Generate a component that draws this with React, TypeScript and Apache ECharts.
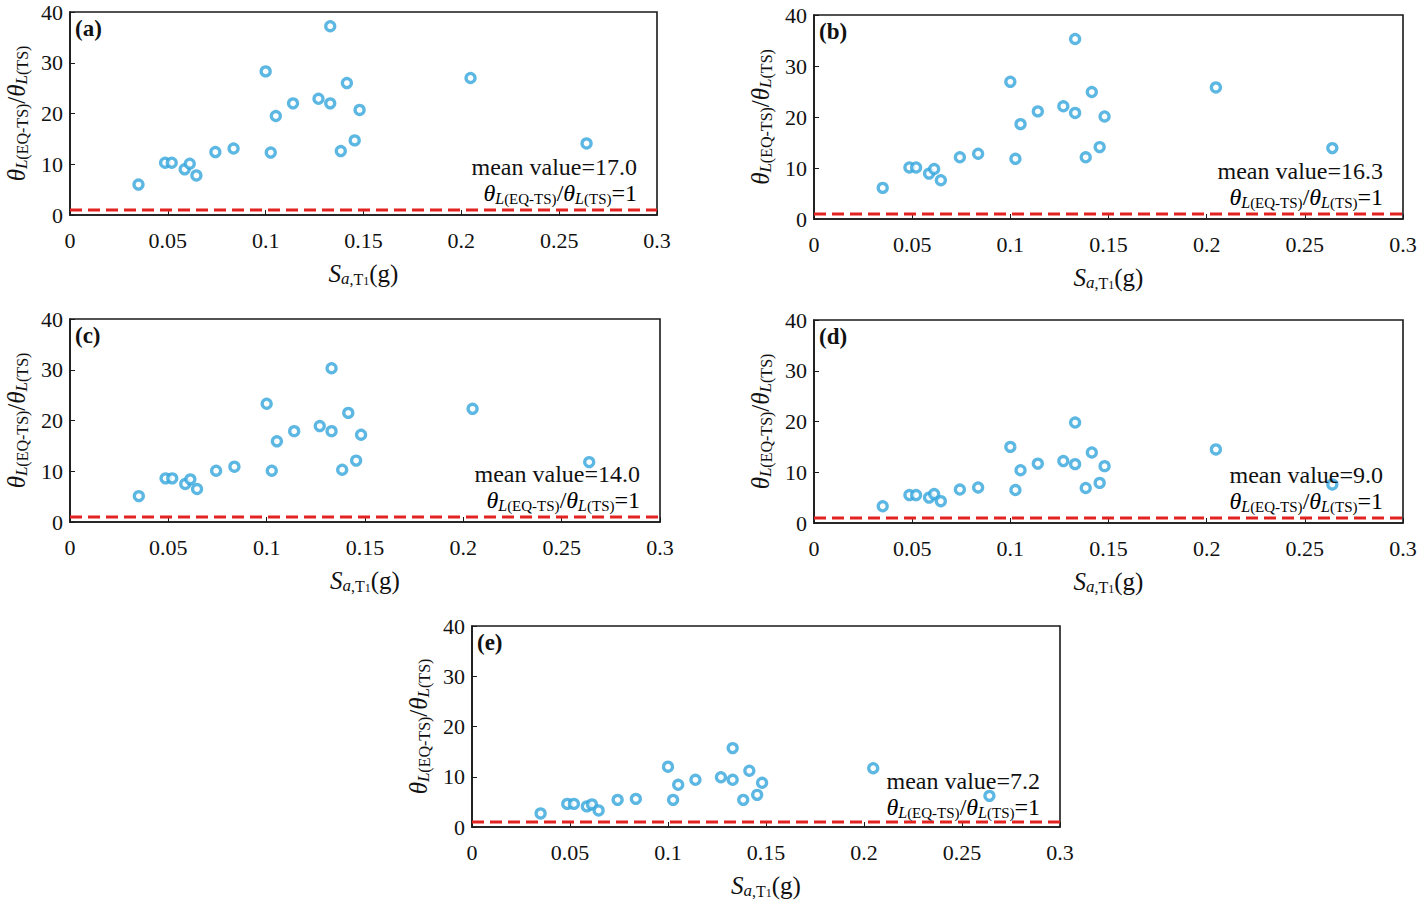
import React, { useEffect, useRef } from "react";
import * as echarts from "echarts";

// ---------- data ----------
const SA_T1 = [
  0.035, 0.0486, 0.052, 0.0586, 0.0612, 0.0646, 0.0743, 0.0836, 0.1, 0.1026, 0.1052,
  0.114, 0.127, 0.133, 0.133, 0.1384, 0.1415, 0.1455, 0.148, 0.2047, 0.264,
];
const RATIO_A = [6.0, 10.3, 10.3, 9.0, 10.1, 7.8, 12.4, 13.1, 28.3, 12.3, 19.5, 22.0, 22.9, 37.2, 22.0, 12.6, 26.0, 14.7, 20.7, 27.0, 14.1];
const RATIO_B = [6.1, 10.1, 10.1, 8.9, 9.8, 7.6, 12.1, 12.8, 26.9, 11.8, 18.6, 21.1, 22.1, 35.3, 20.8, 12.1, 24.9, 14.1, 20.1, 25.8, 13.9];
const RATIO_C = [5.1, 8.6, 8.6, 7.5, 8.4, 6.5, 10.1, 10.9, 23.3, 10.1, 15.9, 17.9, 18.9, 30.3, 17.9, 10.3, 21.5, 12.1, 17.2, 22.3, 11.8];
const RATIO_D = [3.3, 5.5, 5.5, 5.0, 5.7, 4.3, 6.6, 7.0, 15.0, 6.5, 10.4, 11.7, 12.2, 19.8, 11.6, 6.9, 13.9, 7.9, 11.2, 14.5, 7.6];
const RATIO_E = [2.7, 4.6, 4.6, 4.1, 4.5, 3.3, 5.4, 5.6, 12.0, 5.4, 8.4, 9.4, 9.9, 15.7, 9.4, 5.4, 11.2, 6.4, 8.8, 11.7, 6.2];
const PANEL_SERIES = [RATIO_A, RATIO_B, RATIO_C, RATIO_D, RATIO_E];
const PANEL_LABELS = ["(a)", "(b)", "(c)", "(d)", "(e)"];
const MEAN_VALUES = ["17.0", "16.3", "14.0", "9.0", "7.2"];
const REF_LINE = 1;
const X_RANGE = [0, 0.3];
const Y_RANGE = [0, 40];
const X_TICKS = ["0", "0.05", "0.1", "0.15", "0.2", "0.25", "0.3"];

// ---------- layout ----------
const GRIDS = [
  { left: 70, top: 12, width: 587, height: 203 },
  { left: 814, top: 15, width: 589, height: 204 },
  { left: 70, top: 319, width: 590, height: 203 },
  { left: 814, top: 320, width: 589, height: 203 },
  { left: 472, top: 626, width: 588, height: 203 },
];

const SERIF = "'Liberation Serif', 'Times New Roman', Times, serif";
const BLUE = "#33a5dc";
const RED = "#e3231f";
const INK = "#111";

const richAxis = {
  th: { fontFamily: SERIF, fontStyle: "italic", fontSize: 25, lineHeight: 28, color: INK, verticalAlign: "middle" },
  n: { fontFamily: SERIF, fontSize: 25, lineHeight: 28, color: INK, verticalAlign: "middle" },
  si: { fontFamily: SERIF, fontStyle: "italic", fontSize: 17, lineHeight: 16, color: INK, verticalAlign: "bottom" },
  sr: { fontFamily: SERIF, fontSize: 16, lineHeight: 16, color: INK, verticalAlign: "bottom" },
  ss: { fontFamily: SERIF, fontSize: 12, lineHeight: 13, color: INK, verticalAlign: "bottom" },
};

const richNote = {
  th: { fontFamily: SERIF, fontStyle: "italic", fontSize: 24, lineHeight: 27, color: INK, verticalAlign: "middle" },
  n: { fontFamily: SERIF, fontSize: 24, lineHeight: 27, color: INK, verticalAlign: "middle" },
  si: { fontFamily: SERIF, fontStyle: "italic", fontSize: 16, lineHeight: 16, color: INK, verticalAlign: "bottom" },
  sr: { fontFamily: SERIF, fontSize: 15, lineHeight: 16, color: INK, verticalAlign: "bottom" },
};

const RATIO_TEXT = "{th|θ}{si|L}{sr|(EQ-TS)}{n|/}{th|θ}{si|L}{sr|(TS)}";
const SA_TEXT = "{th|S}{si|a}{sr|,T}{ss|1}{n|(g)}";

export default function App() {
  const ref = useRef<HTMLDivElement>(null);

  useEffect(() => {
    if (!ref.current) return;
    const chart = echarts.init(ref.current, null, { renderer: "svg" });

    const grid = GRIDS.map((g) => ({
      ...g,
      show: true,
      borderColor: "#1a1a1a",
      borderWidth: 1.6,
      backgroundColor: "transparent",
      containLabel: false,
    }));

    const xAxis = GRIDS.map((_, i) => ({
      type: "value",
      gridIndex: i,
      min: X_RANGE[0],
      max: X_RANGE[1],
      interval: 0.05,
      splitLine: { show: false },
      axisLine: { show: true, onZero: false, lineStyle: { color: "#1a1a1a", width: 1.6 } },
      axisTick: { show: true, inside: true, length: 5, lineStyle: { color: "#1a1a1a", width: 1 } },
      axisLabel: {
        margin: 14,
        fontFamily: SERIF,
        fontSize: 22,
        color: INK,
        formatter: (v: number) => X_TICKS[Math.round(v / 0.05)] ?? String(v),
      },
      name: SA_TEXT,
      nameLocation: "middle",
      nameGap: 44,
      nameTextStyle: { rich: richAxis },
    }));

    const yAxis = GRIDS.map((_, i) => ({
      type: "value",
      gridIndex: i,
      min: Y_RANGE[0],
      max: Y_RANGE[1],
      interval: 10,
      splitLine: { show: false },
      axisLine: { show: true, onZero: false, lineStyle: { color: "#1a1a1a", width: 1.6 } },
      axisTick: { show: true, inside: true, length: 5, lineStyle: { color: "#1a1a1a", width: 1 } },
      axisLabel: { margin: 7, fontFamily: SERIF, fontSize: 22, color: INK },
      name: RATIO_TEXT,
      nameLocation: "middle",
      nameRotate: 90,
      nameGap: 40,
      nameTextStyle: { rich: richAxis },
    }));

    const series: any[] = [];
    PANEL_SERIES.forEach((vals, i) => {
      series.push({
        type: "line",
        xAxisIndex: i,
        yAxisIndex: i,
        data: [
          [X_RANGE[0], REF_LINE],
          [X_RANGE[1], REF_LINE],
        ],
        symbol: "none",
        silent: true,
        lineStyle: { color: RED, width: 3, type: [12, 6] },
        z: 2,
      });
      series.push({
        type: "scatter",
        xAxisIndex: i,
        yAxisIndex: i,
        data: vals.map((v, k) => [SA_T1[k], v]),
        symbol: "circle",
        symbolSize: 9,
        itemStyle: { color: "#fff", borderColor: BLUE, borderWidth: 3.3 },
        z: 3,
      });
    });

    const graphic: any[] = [];
    GRIDS.forEach((g, i) => {
      const right = g.left + g.width;
      const bottom = g.top + g.height;
      graphic.push({
        type: "text",
        x: g.left + 5,
        y: g.top + 16,
        style: {
          text: PANEL_LABELS[i],
          font: `bold 23px ${SERIF}`,
          fill: INK,
          align: "left",
          verticalAlign: "middle",
        },
        z: 10,
      });
      graphic.push({
        type: "text",
        x: right - 20,
        y: bottom - 48,
        style: {
          text: `mean value=${MEAN_VALUES[i]}`,
          font: `24px ${SERIF}`,
          fill: INK,
          align: "right",
          verticalAlign: "middle",
        },
        z: 10,
      });
      graphic.push({
        type: "text",
        x: right - 20,
        y: bottom - 22,
        style: {
          text: RATIO_TEXT + "{n|=1}",
          rich: richNote,
          align: "right",
          verticalAlign: "middle",
        },
        z: 10,
      });
    });

    chart.setOption({
      animation: false,
      backgroundColor: "#fff",
      grid,
      xAxis,
      yAxis,
      series,
      graphic,
    });

    return () => chart.dispose();
  }, []);

  return (
    <div
      ref={ref}
      style={{ position: "fixed", left: 0, top: 0, width: 1424, height: 900, background: "#fff" }}
    />
  );
}
